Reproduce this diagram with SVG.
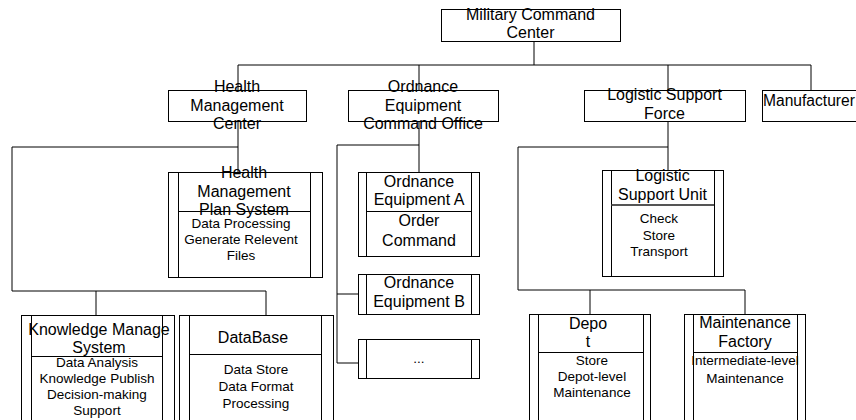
<svg xmlns="http://www.w3.org/2000/svg" width="856" height="420" viewBox="0 0 856 420">
<style>
.bx{fill:#fff;stroke:#000;stroke-width:1}
.ln{fill:none;stroke:#000;stroke-width:1}
.dv{fill:none;stroke:#000;stroke-width:1}
.dv2{fill:none;stroke:#555;stroke-width:2}
.t{font-family:"Liberation Sans",Arial,sans-serif;font-size:16px;fill:#000;text-anchor:middle}
.b{font-family:"Liberation Sans",Arial,sans-serif;font-size:13.5px;fill:#000;text-anchor:middle}
</style>
<rect width="856" height="420" fill="#fff"/>
<g id="connectors" class="ln">
<polyline points="534,41 534,65"/>
<polyline points="238,65 811,65"/>
<polyline points="238,65 238,90"/>
<polyline points="419,65 419,90"/>
<polyline points="668,65 668,90"/>
<polyline points="811,65 811,90"/>
<polyline points="238,121 238,172"/>
<polyline points="238,147 12,147 12,291 266,291 266,315"/>
<polyline points="96,291 96,315"/>
<polyline points="419,121 419,172"/>
<polyline points="419,145 337,145 337,363 358,363"/>
<polyline points="337,294 358,294"/>
<polyline points="668,121 668,170"/>
<polyline points="668,147 518,147 518,290 745,290 745,314"/>
<polyline points="590,290 590,314"/>
</g>
<g id="military-command-center">
<rect class="bx" x="441.5" y="9.5" width="179" height="32"/>
<text class="t" x="530.5" y="20">Military Command</text>
<text class="t" x="530.5" y="38">Center</text>
</g>
<g id="health-management-center">
<rect class="bx" x="168.5" y="90.5" width="138" height="31"/>
<text class="t" x="237" y="92">Health</text>
<text class="t" x="237" y="111">Management</text>
<text class="t" x="237" y="129">Center</text>
</g>
<g id="ordnance-equipment-command-office">
<rect class="bx" x="348.5" y="90.5" width="150" height="31"/>
<text class="t" x="423" y="92">Ordnance</text>
<text class="t" x="423" y="111">Equipment</text>
<text class="t" x="423" y="129">Command Office</text>
</g>
<g id="logistic-support-force">
<rect class="bx" x="584.5" y="90.5" width="161" height="31"/>
<text class="t" x="664.5" y="100">Logistic Support</text>
<text class="t" x="664.5" y="119">Force</text>
</g>
<g id="manufacturer">
<rect class="bx" x="762.5" y="90.5" width="110" height="31"/>
<text class="t" x="763" y="106" style="text-anchor:start;font-size:15.6px">Manufacturer</text>
</g>
<g id="health-management-plan-system">
<rect class="bx" x="168.5" y="172.5" width="154" height="105"/>
<path class="dv" d="M178.5,172.5V277.5M310.5,172.5V277.5M178.5,211.5H310.5"/>
<text class="t" x="244" y="178">Health</text>
<text class="t" x="244" y="197">Management</text>
<text class="t" x="244" y="215">Plan System</text>
<text class="b" x="241" y="228">Data Processing</text>
<text class="b" x="241" y="244">Generate Relevent</text>
<text class="b" x="241" y="260">Files</text>
</g>
<g id="ordnance-equipment-a">
<rect class="bx" x="358.5" y="172.5" width="121" height="84"/>
<path class="dv" d="M366.5,172.5V256.5M471.5,172.5V256.5M366.5,211.5H471.5"/>
<text class="t" x="419" y="187">Ordnance</text>
<text class="t" x="419" y="205">Equipment A</text>
<text class="t" x="419" y="226">Order</text>
<text class="t" x="419" y="246">Command</text>
</g>
<g id="ordnance-equipment-b">
<rect class="bx" x="358.5" y="274.5" width="121" height="40"/>
<path class="dv" d="M366.5,274.5V314.5M471.5,274.5V314.5"/>
<text class="t" x="419" y="288">Ordnance</text>
<text class="t" x="419" y="307">Equipment B</text>
</g>
<g id="ordnance-more">
<rect class="bx" x="358.5" y="339.5" width="121" height="39"/>
<path class="dv" d="M366.5,339.5V378.5M471.5,339.5V378.5"/>
<text class="b" x="419" y="363">...</text>
</g>
<g id="logistic-support-unit">
<rect class="bx" x="602.5" y="170.5" width="121" height="106"/>
<path class="dv" d="M611.5,170.5V276.5M714.5,170.5V276.5"/>
<path class="dv2" d="M611.5,205H714"/>
<text class="t" x="662.5" y="181">Logistic</text>
<text class="t" x="662.5" y="200">Support Unit</text>
<text class="b" x="659" y="223">Check</text>
<text class="b" x="659" y="240">Store</text>
<text class="b" x="659" y="256">Transport</text>
</g>
<g id="knowledge-manage-system">
<rect class="bx" x="21.5" y="315.5" width="153" height="120"/>
<path class="dv" d="M31.5,315.5V435M162.5,315.5V435M31.5,356.5H162.5"/>
<text class="t" x="99" y="335">Knowledge Manage</text>
<text class="t" x="99" y="353">System</text>
<text class="b" x="97" y="367">Data Analysis</text>
<text class="b" x="97" y="383">Knowledge Publish</text>
<text class="b" x="97" y="399">Decision-making</text>
<text class="b" x="97" y="415">Support</text>
</g>
<g id="database">
<rect class="bx" x="179.5" y="315.5" width="154" height="120"/>
<path class="dv" d="M189.5,315.5V435M321.5,315.5V435M189.5,354.5H321.5"/>
<text class="t" x="253" y="343">DataBase</text>
<text class="b" x="256" y="374">Data Store</text>
<text class="b" x="256" y="391">Data Format</text>
<text class="b" x="256" y="408">Processing</text>
</g>
<g id="depot">
<rect class="bx" x="529.5" y="314.5" width="121" height="120"/>
<path class="dv" d="M538.5,314.5V435M643.5,314.5V435M538.5,352.5H644"/>
<text class="t" x="588" y="329">Depo</text>
<text class="t" x="588" y="347">t</text>
<text class="b" x="592" y="365">Store</text>
<text class="b" x="592" y="381">Depot-level</text>
<text class="b" x="592" y="397">Maintenance</text>
</g>
<g id="maintenance-factory">
<rect class="bx" x="684.5" y="314.5" width="121" height="120"/>
<path class="dv" d="M693.5,314.5V435M797.5,314.5V435M693.5,352.5H797.5"/>
<text class="t" x="745" y="328">Maintenance</text>
<text class="t" x="745" y="347">Factory</text>
<text class="b" x="745" y="365">Intermediate-level</text>
<text class="b" x="745" y="383">Maintenance</text>
</g>
</svg>
